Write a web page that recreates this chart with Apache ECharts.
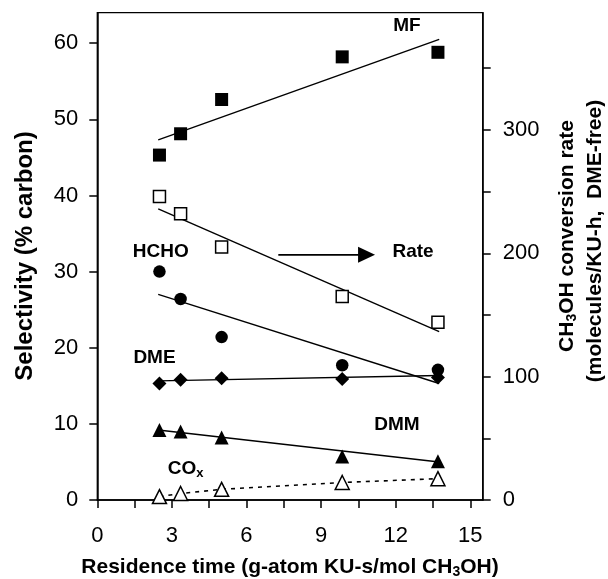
<!DOCTYPE html>
<html>
<head>
<meta charset="utf-8">
<script src="https://cdn.jsdelivr.net/npm/echarts/dist/echarts.min.js"></script>
<style>
  html, body { margin: 0; padding: 0; background: #fff; }
  #chart { width: 608px; height: 579px; }
</style>
</head>
<body>
<div id="chart"></div>
<script>
// residence time (g-atom KU-s/mol CH3OH)
const residence = [2.5, 3.35, 5.0, 9.85, 13.7];

// selectivities (% carbon), left axis
const mf = [45.3, 48.1, 52.6, 58.2, 58.8];
const hcho = [30.0, 26.4, 21.4, 17.7, 17.1];
const dme = [15.3, 15.8, 16.0, 15.9, 16.1];
const dmm = [9.2, 9.0, 8.2, 5.7, 5.1];
const cox = [0.45, 0.85, 1.4, 2.3, 2.8];

// CH3OH conversion rate, right axis
const rate = [246, 232, 205, 165, 144];

// fitted trend lines (end points)
const trendX = [2.45, 13.75];
const mfTrend = [47.3, 60.5];
const hchoTrend = [27.0, 15.3];
const dmeTrend = [15.65, 16.35];
const dmmTrend = [9.2, 5.0];
const rateTrend = [236, 136.5];

// axis ticks / labels
const xTicks = [0, 1.5, 3, 4.5, 6, 7.5, 9, 10.5, 12, 13.5, 15];
const xLabels = [0, 3, 6, 9, 12, 15];
const leftTicks = [0, 10, 20, 30, 40, 50, 60];
const rightTicks = [0, 50, 100, 150, 200, 250, 300, 350];
const rightLabels = [0, 100, 200, 300];

const pairs = (xs, ys) => xs.map((x, i) => [x, ys[i]]);

const FONT = "'Liberation Sans', Arial, sans-serif";

const chart = echarts.init(document.getElementById("chart"), null, { renderer: "canvas" });

// marker series
const markerSeries = (name, ys, symbol, size, filled, yIdx) => ({
  name: name,
  type: "scatter",
  yAxisIndex: yIdx || 0,
  symbol: symbol,
  symbolSize: size,
  data: pairs(residence, ys),
  itemStyle: filled
    ? { color: "#000", borderWidth: 0, opacity: 1 }
    : { color: "#fff", borderColor: "#000", borderWidth: 1.5, opacity: 1 },
  z: 5,
});

// trend line series
const trendSeries = (ys, yIdx) => ({
  type: "line",
  yAxisIndex: yIdx || 0,
  data: pairs(trendX, ys),
  symbol: "none",
  lineStyle: { color: "#000", width: 1.4 },
  z: 3,
  silent: true,
});

const option = {
  animation: false,
  backgroundColor: "#fff",
  textStyle: { fontFamily: FONT },
  grid: {
    left: 97.3,
    right: 125.3,
    top: 12.7,
    bottom: 79,
    show: true,
    borderColor: "#000",
    borderWidth: 1.3,
  },
  xAxis: {
    type: "value",
    min: 0,
    max: 15.5,
    axisLine: { show: true, onZero: false, lineStyle: { color: "#000", width: 1.5 } },
    axisTick: { show: true, length: 8, customValues: xTicks, lineStyle: { color: "#000", width: 1.5 } },
    axisLabel: { customValues: xLabels, margin: 25, color: "#000", fontSize: 22, fontFamily: FONT },
    splitLine: { show: false },
  },
  yAxis: [
    {
      type: "value",
      min: 0,
      max: 64,
      position: "left",
      axisLine: { show: true, onZero: false, lineStyle: { color: "#000", width: 1.5 } },
      axisTick: { show: true, length: 8, customValues: leftTicks, lineStyle: { color: "#000", width: 1.5 } },
      axisLabel: { customValues: leftTicks, margin: 19, color: "#000", fontSize: 22, fontFamily: FONT },
      splitLine: { show: false },
    },
    {
      type: "value",
      min: 0,
      max: 395,
      position: "right",
      axisLine: { show: true, onZero: false, lineStyle: { color: "#000", width: 1.5 } },
      axisTick: { show: true, length: 8, customValues: rightTicks, lineStyle: { color: "#000", width: 1.5 } },
      axisLabel: { customValues: rightLabels, margin: 20, color: "#000", fontSize: 22, fontFamily: FONT },
      splitLine: { show: false },
    },
  ],
  series: [
    trendSeries(mfTrend),
    trendSeries(hchoTrend),
    trendSeries(dmeTrend),
    trendSeries(dmmTrend),
    trendSeries(rateTrend, 1),
    {
      type: "line",
      data: pairs(residence, cox),
      symbol: "none",
      lineStyle: { color: "#000", width: 1.6, type: [4, 5] },
      z: 3,
    },
    markerSeries("MF", mf, "rect", 13, true),
    markerSeries("HCHO", hcho, "circle", 12.5, true),
    markerSeries("DME", dme, "diamond", 14, true),
    markerSeries("DMM", dmm, "triangle", 14, true),
    markerSeries("COx", cox, "triangle", 14, false),
    markerSeries("Rate", rate, "rect", 12, false, 1),
  ],
};

chart.setOption(option);

// annotations placed in data coordinates (residence time, selectivity)
const notes = [
  { text: "{b|MF}", at: [12.45, 62.3] },
  { text: "{b|HCHO}", at: [2.55, 32.6] },
  { text: "{b|DME}", at: [2.3, 18.7] },
  { text: "{b|DMM}", at: [12.05, 9.9] },
  { text: "{b|CO}{s|x}", at: [3.55, 4.1] },
  { text: "{b|Rate}", at: [12.7, 32.6] },
];
const arrowFrom = [7.28, 32.2];
const arrowTo = [11.17, 32.2];

const richBold = {
  b: { fontSize: 19, fontWeight: "bold", fontFamily: FONT, color: "#000" },
  s: { fontSize: 13, fontWeight: "bold", fontFamily: FONT, color: "#000", padding: [10, 0, 0, 0] },
};

const toPx = (p) => chart.convertToPixel({ xAxisIndex: 0, yAxisIndex: 0 }, p);

const graphics = notes.map((n) => {
  const p = toPx(n.at);
  return {
    type: "text",
    x: p[0],
    y: p[1],
    z: 10,
    style: { text: n.text, rich: richBold, align: "center", verticalAlign: "middle" },
  };
});

const a0 = toPx(arrowFrom);
const a1 = toPx(arrowTo);
graphics.push({
  type: "line",
  shape: { x1: a0[0], y1: a0[1], x2: a1[0] - 14, y2: a1[1] },
  style: { stroke: "#000", lineWidth: 1.6 },
  z: 10,
});
graphics.push({
  type: "polygon",
  shape: { points: [[a1[0], a1[1]], [a1[0] - 17, a1[1] - 8], [a1[0] - 17, a1[1] + 8]] },
  style: { fill: "#000" },
  z: 10,
});

// axis titles
const titleRich = {
  b: { fontSize: 21, fontWeight: "bold", fontFamily: FONT, color: "#000" },
  s: { fontSize: 14, fontWeight: "bold", fontFamily: FONT, color: "#000", padding: [10, 0, 0, 0] },
};
graphics.push({
  type: "text",
  x: 290,
  y: 567,
  style: { text: "{b|Residence time (g-atom KU-s/mol CH}{s|3}{b|OH)}", rich: titleRich, align: "center", verticalAlign: "middle" },
});
graphics.push({
  type: "text",
  x: 25,
  y: 256,
  rotation: Math.PI / 2,
  style: {
    text: "{b|Selectivity (% carbon)}",
    rich: { b: { fontSize: 24, fontWeight: "bold", fontFamily: FONT, color: "#000" } },
    align: "center",
    verticalAlign: "middle",
  },
});
graphics.push({
  type: "text",
  x: 567,
  y: 236,
  rotation: Math.PI / 2,
  style: { text: "{b|CH}{s|3}{b|OH conversion rate}", rich: titleRich, align: "center", verticalAlign: "middle" },
});
graphics.push({
  type: "text",
  x: 595,
  y: 241,
  rotation: Math.PI / 2,
  style: { text: "{b|(molecules/KU-h,  DME-free)}", rich: titleRich, align: "center", verticalAlign: "middle" },
});

chart.setOption({ graphic: graphics });

window.addEventListener("resize", () => chart.resize());
</script>
</body>
</html>
